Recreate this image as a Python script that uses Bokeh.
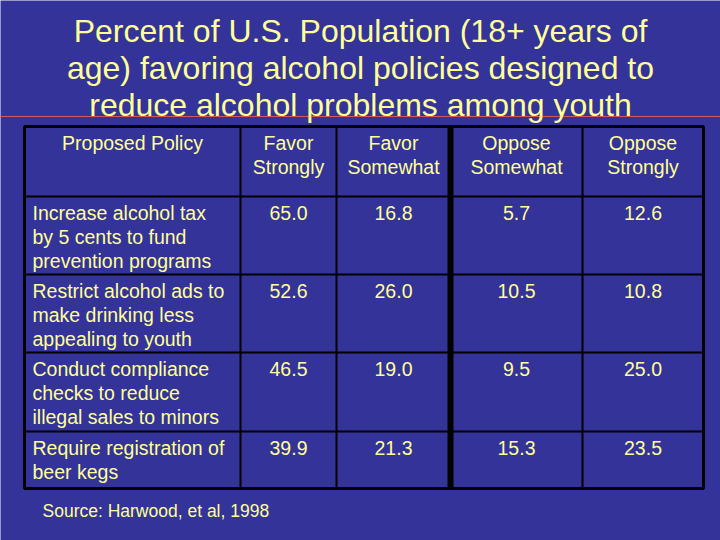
from bokeh.plotting import figure
from bokeh.models import Range1d, ColumnDataSource
from bokeh.core.properties import value
from bokeh.embed import file_html
from bokeh.resources import INLINE

# ---------------- data ----------------
title_lines = ["Percent of U.S. Population (18+ years of",
               "age) favoring alcohol policies designed to",
               "reduce alcohol problems among youth"]
header_policy = ["Proposed Policy"]
column_headers = [["Favor", "Strongly"], ["Favor", "Somewhat"],
                  ["Oppose", "Somewhat"], ["Oppose", "Strongly"]]
policies = [["Increase alcohol tax", "by 5 cents to fund", "prevention programs"],
            ["Restrict alcohol ads to", "make drinking less", "appealing to youth"],
            ["Conduct compliance", "checks to reduce", "illegal sales to minors"],
            ["Require registration of", "beer kegs"]]
favor_strongly = [65.0, 52.6, 46.5, 39.9]
favor_somewhat = [16.8, 26.0, 19.0, 21.3]
oppose_somewhat = [5.7, 10.5, 9.5, 15.3]
oppose_strongly = [12.6, 10.8, 25.0, 23.5]
source_note = "Source: Harwood, et al, 1998"

# ---------------- layout ----------------
BG = "#333399"
FG = "#FFFF99"
FONT = value("Liberation Sans")
left, right, top, bottom = 24, 703, 126, 488
col_edges = [24, 240, 336, 450, 582, 703]
row_edges = [126, 196, 274, 352, 431, 488]
line_h = 24

p = figure(width=720, height=540, output_backend="svg", toolbar_location=None,
           x_range=Range1d(0, 720), y_range=Range1d(540, 0),
           background_fill_color=BG, border_fill_color=BG,
           min_border=0, min_border_left=0, min_border_right=0,
           min_border_top=0, min_border_bottom=0)
p.xaxis.visible = False
p.yaxis.visible = False
p.grid.visible = False
p.outline_line_color = None

# red rule under the title
p.segment(x0=[0], y0=[116], x1=[720], y1=[116], line_color="#d05a5a", line_width=1)

# title
p.text(x=[360] * 3, y=[30, 67, 104], text=title_lines, text_font=FONT,
       text_font_size="32px", text_color=FG, text_align="center", text_baseline="middle")

# table grid
hx0, hy0, hx1, hy1 = [], [], [], []
for y in row_edges[1:-1]:
    hx0.append(left); hx1.append(right); hy0.append(y); hy1.append(y)
p.segment(x0=hx0, y0=hy0, x1=hx1, y1=hy1, line_color="black", line_width=2)
vx = [240, 336, 582]
p.segment(x0=vx, y0=[top] * 3, x1=vx, y1=[bottom] * 3, line_color="black", line_width=2)
p.segment(x0=[450], y0=[top], x1=[450], y1=[bottom], line_color="black", line_width=6)
p.rect(x=[(left + right) / 2], y=[(top + bottom) / 2], width=right - left, height=bottom - top,
       fill_color=None, line_color="black", line_width=3)

# header texts
tx, ty, tt, ta = [], [], [], []
tx.append((col_edges[0] + col_edges[1]) / 2); ty.append(top + 16); tt.append(header_policy[0]); ta.append("center")
for c, lines in enumerate(column_headers):
    cx = (col_edges[c + 1] + col_edges[c + 2]) / 2
    for i, s in enumerate(lines):
        tx.append(cx); ty.append(top + 16 + i * line_h); tt.append(s); ta.append("center")

# body texts
cols = [favor_strongly, favor_somewhat, oppose_somewhat, oppose_strongly]
for r, lines in enumerate(policies):
    y0 = row_edges[r + 1] + 16
    for i, s in enumerate(lines):
        tx.append(32); ty.append(y0 + i * line_h); tt.append(s); ta.append("left")
    for c, vals in enumerate(cols):
        cx = (col_edges[c + 1] + col_edges[c + 2]) / 2
        tx.append(cx); ty.append(y0); tt.append(f"{vals[r]:.1f}"); ta.append("center")

src = ColumnDataSource(dict(x=tx, y=ty, text=tt, align=ta))
p.text(x="x", y="y", text="text", text_align="align", source=src, text_font=FONT,
       text_font_size="19.5px", text_color=FG, text_baseline="middle")

# source note
p.text(x=[42], y=[510], text=[source_note], text_font=FONT, text_font_size="17.5px",
       text_color=FG, text_align="left", text_baseline="middle")

html = file_html(p, INLINE)
html = html.replace("<body>", '<body style="margin:0;overflow:hidden;background-color:#333399;">', 1)
open("out.html", "w").write(html)
